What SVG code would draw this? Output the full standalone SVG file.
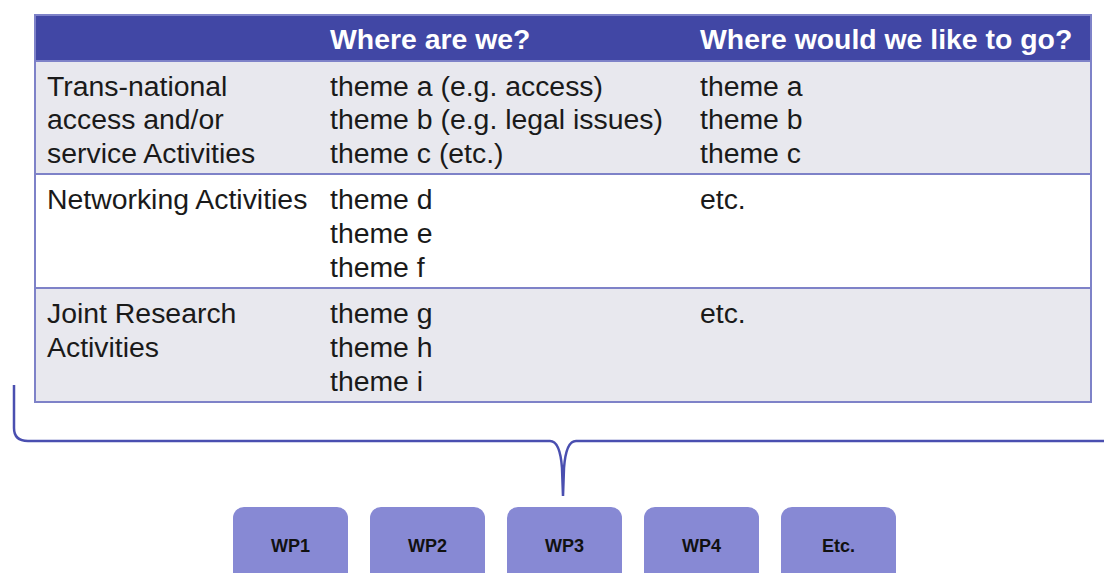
<svg xmlns="http://www.w3.org/2000/svg" width="1104" height="573" viewBox="0 0 1104 573">
<style>
.t{font-family:"Liberation Sans",Arial,sans-serif;font-size:28.4px;fill:#1a1a1a}
.h{font-family:"Liberation Sans",Arial,sans-serif;font-size:28.4px;font-weight:bold;fill:#ffffff}
.wp rect{fill:#8789d4}
.wp text{font-family:"Liberation Sans",Arial,sans-serif;font-size:18px;font-weight:bold;fill:#111;text-anchor:middle}
.line{stroke:#7e82c8;stroke-width:2;fill:none}
</style>
<rect width="1104" height="573" fill="#ffffff"/>
<g id="table">
<rect x="34" y="15" width="1058" height="46" fill="#4147a5"/>
<rect x="34" y="61" width="1058" height="113" fill="#e8e8ee"/>
<rect x="34" y="174" width="1058" height="114" fill="#ffffff"/>
<rect x="34" y="288" width="1058" height="114" fill="#e8e8ee"/>
<rect x="35" y="15" width="1056" height="387" class="line"/>
<line x1="34" y1="61" x2="1092" y2="61" class="line"/>
<line x1="34" y1="174" x2="1092" y2="174" class="line"/>
<line x1="34" y1="288" x2="1092" y2="288" class="line"/>
<text class="h" x="330" y="49">Where are we?</text>
<text class="h" x="700" y="49">Where would we like to go?</text>
<text class="t" x="47" y="96">Trans-national</text>
<text class="t" x="47" y="129">access and/or</text>
<text class="t" x="47" y="163">service Activities</text>
<text class="t" x="330" y="96">theme a (e.g. access)</text>
<text class="t" x="330" y="129">theme b (e.g. legal issues)</text>
<text class="t" x="330" y="163">theme c (etc.)</text>
<text class="t" x="700" y="96">theme a</text>
<text class="t" x="700" y="129">theme b</text>
<text class="t" x="700" y="163">theme c</text>
<text class="t" x="47" y="209">Networking Activities</text>
<text class="t" x="330" y="209">theme d</text>
<text class="t" x="330" y="243">theme e</text>
<text class="t" x="330" y="277">theme f</text>
<text class="t" x="700" y="209">etc.</text>
<text class="t" x="47" y="323">Joint Research</text>
<text class="t" x="47" y="357">Activities</text>
<text class="t" x="330" y="323">theme g</text>
<text class="t" x="330" y="357">theme h</text>
<text class="t" x="330" y="391">theme i</text>
<text class="t" x="700" y="323">etc.</text>
</g>
<g id="connectors">
<path d="M14,385 L14,428 Q14,441 28,441 L550,441 Q560,441 562,468 L563,496 M563,496 L564,468 Q566,441 576,441 L1104,441" fill="none" stroke="#4a4fb0" stroke-width="2.5"/>
</g>
<g id="wp1" class="wp"><rect x="233" y="507" width="115" height="80" rx="11"/><text x="290.5" y="552">WP1</text></g>
<g id="wp2" class="wp"><rect x="370" y="507" width="115" height="80" rx="11"/><text x="427.5" y="552">WP2</text></g>
<g id="wp3" class="wp"><rect x="507" y="507" width="115" height="80" rx="11"/><text x="564.5" y="552">WP3</text></g>
<g id="wp4" class="wp"><rect x="644" y="507" width="115" height="80" rx="11"/><text x="701.5" y="552">WP4</text></g>
<g id="etc" class="wp"><rect x="781" y="507" width="115" height="80" rx="11"/><text x="838.5" y="552">Etc.</text></g>
</svg>
